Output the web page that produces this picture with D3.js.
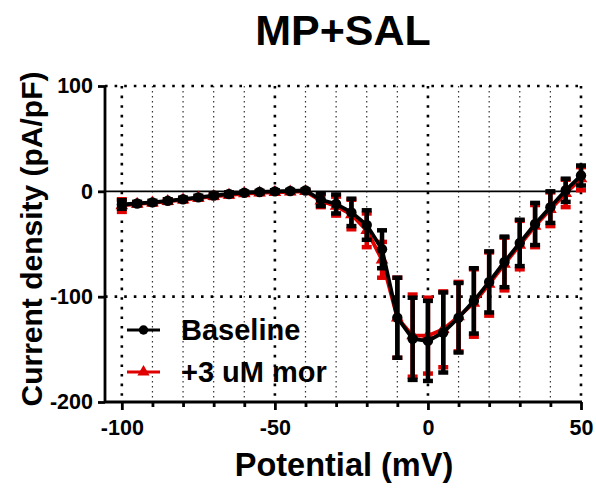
<!DOCTYPE html>
<html>
<head>
<meta charset="utf-8">
<script src="https://cdn.jsdelivr.net/npm/d3@7"></script>
<style>
  body { margin: 0; background: #fff; }
  text { font-family: "Liberation Sans", Arial, sans-serif; font-weight: bold; fill: #000; }
</style>
</head>
<body>
<div id="vis"></div>
<script>
// potential steps (mV)
var voltages = [-100,-95,-90,-85,-80,-75,-70,-65,-60,-55,-50,-45,-40,-35,-30,-25,-20,-15,-10,-5,0,5,10,15,20,25,30,35,40,45,50];

// Baseline mean and SEM (pA/pF)
var baseMean = [-12.5,-11.5,-10.5,-9,-7.5,-5.7,-4,-2.5,-1.3,-0.6,0,0.3,0.8,-8,-12,-20,-32,-55,-120,-140,-142,-134,-120,-104,-86,-67,-49,-31,-15,1,15];
var baseSem  = [4,1.5,1.5,1.5,1.5,1.5,1.5,1.5,1,1,1,1,1,6,9,13,14,18,38,39,38,38,33,31,29,24,22,20,15,11,9.5];

// +3 uM mor mean and SEM
var morMean = [-13.5,-12,-11,-9.5,-8,-6.5,-4.8,-3.5,-2.2,-1.5,-1,-0.5,0,-9,-14,-22,-37,-65,-120,-137,-137,-131,-119,-106,-88,-69,-51,-33,-17,-2,12];
var morSem  = [6,1.5,1.5,1.5,1.5,1.5,1.5,1.5,1,1,1,1,1,6,9,14,16,17,38,39,36,36,33,32,30,25,23,20,16,13,11];

var xMajor = [-100, -50, 0, 50];
var xMinor = [-90,-80,-70,-60,-40,-30,-20,-10,10,20,30,40];
var yTicks = [100, 0, -100, -200];

var width = 596, height = 491;
var svg = d3.select("#vis").append("svg")
    .attr("width", width)
    .attr("height", height);

var x = d3.scaleLinear().domain([-105.5, 50]).range([105, 581]);
var y = d3.scaleLinear().domain([-200, 100]).range([402, 86]);

// grid
svg.selectAll(".vminor")
    .data(xMinor)
    .enter().append("line")
    .attr("x1", d => x(d)).attr("x2", d => x(d))
    .attr("y1", y(100)).attr("y2", y(-200))
    .attr("stroke", "#333").attr("stroke-width", 1.2)
    .attr("stroke-dasharray", "1.4 3.6");

svg.selectAll(".vmajor")
    .data(xMajor)
    .enter().append("line")
    .attr("x1", d => x(d)).attr("x2", d => x(d))
    .attr("y1", y(100)).attr("y2", y(-200))
    .attr("stroke", "#000").attr("stroke-width", 2.6)
    .attr("stroke-dasharray", "2.6 7");

svg.selectAll(".hmajor")
    .data([100, -100])
    .enter().append("line")
    .attr("x1", x(-105.5)).attr("x2", x(50) + 1)
    .attr("y1", d => y(d)).attr("y2", d => y(d))
    .attr("stroke", "#000").attr("stroke-width", 2.6)
    .attr("stroke-dasharray", "2.6 7");

svg.append("line")
    .attr("x1", x(-105.5)).attr("x2", x(50) + 1)
    .attr("y1", y(0)).attr("y2", y(0))
    .attr("stroke", "#000").attr("stroke-width", 1.8);

// axes
var yAxis = d3.axisLeft(y).tickValues(yTicks).tickSize(7).tickPadding(5).tickFormat(d => String(d));
var gy = svg.append("g")
    .attr("transform", "translate(" + x(-105.5) + ",0)")
    .call(yAxis);
gy.selectAll("text").style("font-size", "21.5px");

var xAxis = d3.axisBottom(x).tickValues(xMajor).tickSize(8).tickPadding(10).tickFormat(d => String(d));
var gx = svg.append("g")
    .attr("transform", "translate(0," + y(-200) + ")")
    .call(xAxis);
gx.selectAll("text").style("font-size", "21.5px");

var xMinorAxis = d3.axisBottom(x).tickValues(xMinor).tickSize(5).tickFormat("");
var gxm = svg.append("g")
    .attr("transform", "translate(0," + y(-200) + ")")
    .call(xMinorAxis);
gxm.select(".domain").remove();

[gx, gy, gxm].forEach(function(g){
    g.selectAll("path, line").attr("stroke", "#000").attr("stroke-width", 2.8);
});
gx.select(".domain").attr("d", "M" + x(-105.5) + ",0H" + (x(50) + 1));
gy.select(".domain").attr("d", "M0," + y(100) + "V" + y(-200));

// series
var base = voltages.map(function(v, i){ return {v: v, m: baseMean[i], e: baseSem[i]}; });
var mor = voltages.map(function(v, i){ return {v: v, m: morMean[i], e: morSem[i]}; });

var line = d3.line().x(d => x(d.v)).y(d => y(d.m));

function drawSeries(data, color, shape){
    var g = svg.append("g");
    g.selectAll(".bar")
        .data(data)
        .enter().append("line")
        .attr("x1", d => x(d.v)).attr("x2", d => x(d.v))
        .attr("y1", d => y(d.m + d.e)).attr("y2", d => y(d.m - d.e))
        .attr("stroke", color).attr("stroke-width", 4.5);
    g.selectAll(".capT")
        .data(data)
        .enter().append("line")
        .attr("x1", d => x(d.v) - 5).attr("x2", d => x(d.v) + 5)
        .attr("y1", d => y(d.m + d.e)).attr("y2", d => y(d.m + d.e))
        .attr("stroke", color).attr("stroke-width", 4.5);
    g.selectAll(".capB")
        .data(data)
        .enter().append("line")
        .attr("x1", d => x(d.v) - 5).attr("x2", d => x(d.v) + 5)
        .attr("y1", d => y(d.m - d.e)).attr("y2", d => y(d.m - d.e))
        .attr("stroke", color).attr("stroke-width", 4.5);
    g.append("path")
        .datum(data)
        .attr("d", line)
        .attr("fill", "none")
        .attr("stroke", color).attr("stroke-width", 3.8);
    g.selectAll(".pt")
        .data(data)
        .enter().append("path")
        .attr("d", d3.symbol().type(shape).size(shape === d3.symbolCircle ? 85 : 70))
        .attr("transform", d => "translate(" + x(d.v) + "," + y(d.m) + ")")
        .attr("fill", color);
}

drawSeries(mor, "#e00000", d3.symbolTriangle);
drawSeries(base, "#000", d3.symbolCircle);

// legend
var legend = [
    {label: "Baseline", color: "#000", shape: d3.symbolCircle, y: 330},
    {label: "+3 uM mor", color: "#e00000", shape: d3.symbolTriangle, y: 372}
];
legend.forEach(function(l){
    svg.append("line")
        .attr("x1", 127).attr("x2", 160)
        .attr("y1", l.y).attr("y2", l.y)
        .attr("stroke", l.color).attr("stroke-width", 3.2);
    svg.append("path")
        .attr("d", d3.symbol().type(l.shape).size(l.shape === d3.symbolCircle ? 70 : 65))
        .attr("transform", "translate(143.5," + l.y + ")")
        .attr("fill", l.color);
    svg.append("text")
        .attr("x", 181).attr("y", l.y + 9.5)
        .style("font-size", "29px")
        .text(l.label);
});

// titles
svg.append("text")
    .attr("x", 343).attr("y", 45)
    .attr("text-anchor", "middle")
    .style("font-size", "43px")
    .text("MP+SAL");

svg.append("text")
    .attr("x", 344).attr("y", 476)
    .attr("text-anchor", "middle")
    .style("font-size", "32.5px")
    .text("Potential (mV)");

svg.append("text")
    .attr("transform", "translate(42,239) rotate(-90)")
    .attr("text-anchor", "middle")
    .style("font-size", "30px")
    .text("Current density (pA/pF)");
</script>
</body>
</html>
